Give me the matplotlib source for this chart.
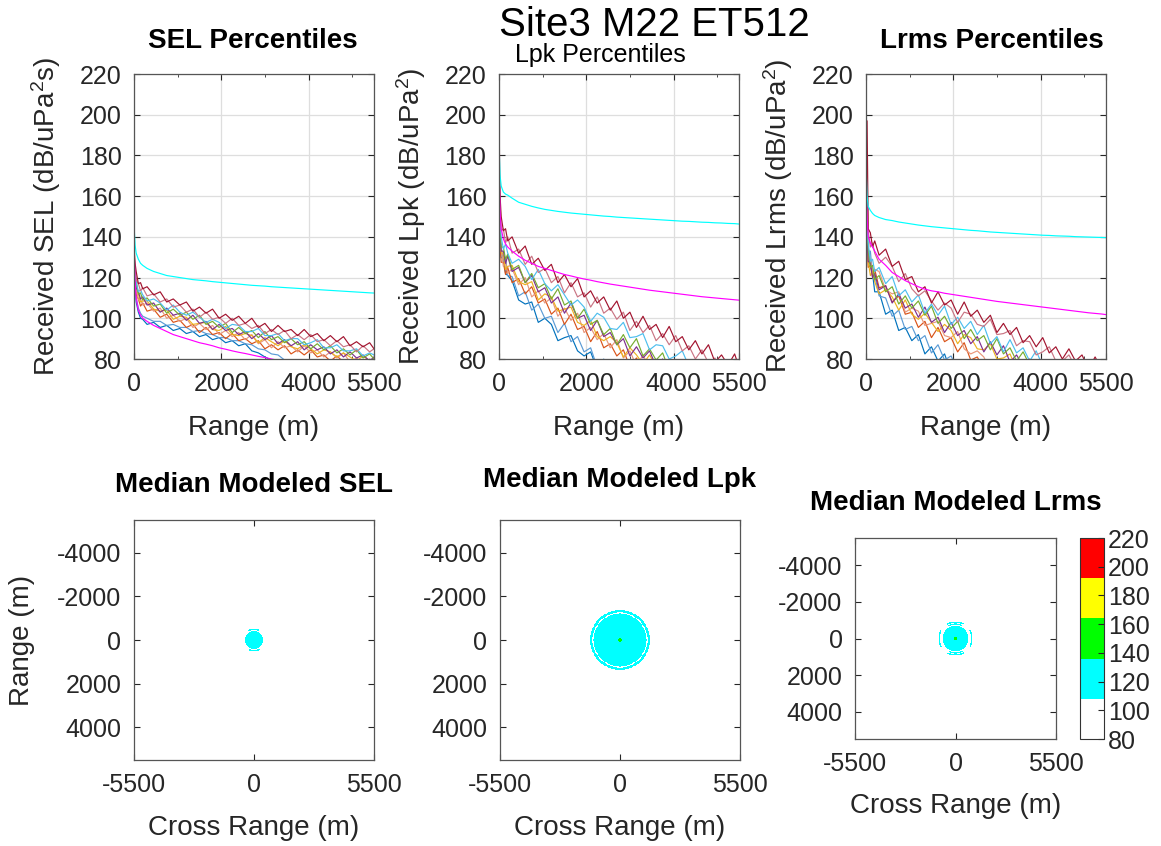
import numpy as np
import matplotlib
matplotlib.use("Agg")
import matplotlib.pyplot as plt
from matplotlib.colors import ListedColormap, Normalize
from matplotlib.cm import ScalarMappable

plt.rcParams['font.family'] = ['Liberation Sans', 'DejaVu Sans']
plt.rcParams['mathtext.fontset'] = 'custom'
plt.rcParams['mathtext.rm'] = 'Liberation Sans'
plt.rcParams['mathtext.it'] = 'Liberation Sans:italic'
plt.rcParams['mathtext.bf'] = 'Liberation Sans:bold'
plt.rcParams['axes.unicode_minus'] = False

# range samples (m) shared by all percentile curves
rng = [0, 25, 50, 100, 150, 200, 300, 450, 600, 750,
       900, 1050, 1200, 1350, 1500, 1650, 1800, 1950, 2100, 2250,
       2400, 2550, 2700, 2850, 3000, 3150, 3300, 3450, 3600, 3750,
       3900, 4050, 4200, 4350, 4500, 4650, 4800, 4950, 5100, 5250,
       5400, 5500]

# ---- SEL percentiles (dB) ----
sel_dr = [135, 127, 123, 117, 117.5, 114.5, 115.5, 111.5, 113, 108,
          109.5, 106.5, 108, 103.5, 105.5, 102.5, 104.5, 100, 102, 99,
          101, 97.5, 100, 95.5, 97.5, 93.5, 96.5, 93.5, 94.5, 91.5,
          94.5, 91, 92.5, 89, 91.5, 88.5, 91, 86.5, 88.5, 86,
          88, 85]
sel_pk = [132, 125, 119, 117, 113.5, 115, 111, 112, 108, 109.5,
          105.5, 106.5, 103, 104.5, 100.5, 103, 99.5, 100.5, 97.5, 100,
          96.5, 97.5, 95, 96.5, 92.5, 94.5, 92, 94, 90, 92,
          89.5, 92, 88.5, 89.5, 86.5, 89, 86, 87, 83.5, 86.5,
          83.5, 85]
sel_lb = [130, 124, 118, 113, 114, 111.5, 108.5, 109.5, 107.5, 104,
          106.5, 103, 101.5, 103, 100.5, 98, 99.5, 98, 95, 97,
          96.5, 93.5, 93.5, 95, 91.5, 91.5, 92.5, 89, 90, 90,
          87, 88, 89.5, 85.5, 85.5, 87, 84, 84, 85, 81.5,
          83, 82]
sel_gr = [129, 122, 118, 112, 112.5, 109, 110, 106, 107, 102.5,
          104.5, 101.5, 103, 99.5, 101.5, 97, 98.5, 95.5, 97.5, 93,
          95.5, 92.5, 94, 90.5, 93.5, 89.5, 91, 88, 90, 87,
          88.5, 85, 87.5, 84.5, 86.5, 83, 85, 82, 84.5, 80.5,
          82.5, 80]
sel_pu = [128, 121, 115, 113, 109.5, 110.5, 106.5, 107.5, 103, 105,
          101.5, 102.5, 99, 101.5, 97.5, 98.5, 94.5, 97, 94, 95,
          92, 93.5, 90, 92.5, 89.5, 91.5, 87.5, 89.5, 86.5, 88.5,
          84.5, 87, 84.5, 86, 82.5, 84.5, 81, 83.5, 80.5, 82,
          79, 81]
sel_ye = [127, 119, 115, 112, 108, 108.5, 108.5, 104.5, 103.5, 104,
          99.5, 101, 100.5, 97, 97.5, 98, 94.5, 94, 96, 92,
          91.5, 92.5, 91.5, 88, 90.5, 88.5, 86.5, 89, 86, 85,
          87, 85, 82.5, 84.5, 83.5, 81, 83, 81, 79, 81.5,
          79, 79]
sel_sa = [126, 119, 115, 109, 109.5, 106.5, 107.5, 103.5, 105, 100,
          101.5, 98.5, 100, 95.5, 97.5, 94.5, 96.5, 92, 94, 91,
          93, 89.5, 92, 87.5, 89.5, 85.5, 88.5, 85.5, 86.5, 83.5,
          86.5, 83, 84.5, 81, 83.5, 80.5, 83, 78.5, 80.5, 78,
          80, 77]
sel_or = [124.5, 117.5, 111.5, 109.5, 106, 107.5, 103.5, 104.5, 100.5, 102,
          98, 99, 95.5, 97, 93, 95.5, 92, 93, 90, 92.5,
          89, 90, 87.5, 89, 85, 87, 84.5, 86.5, 82.5, 84.5,
          82, 84.5, 81, 82, 79, 81.5, 78.5, 79.5, 76, 79,
          76, 77.5]
sel_bl = [124, 115, 108, 103, 100, 99.5, 97, 98, 95.5, 96.5,
          94, 95, 92.5, 93.5, 91, 92, 89.5, 90.5, 88, 89,
          86.5, 87.5, 84, 83, 81, 79.5, 78, 77, 76, 75,
          74, 73, 72, 71, 70, 69, 68, 67, 66, 65,
          64, 63]
sel_bl2 = [126, 117, 110, 105, 102.5, 101, 100, 98.5, 98.5, 96.5,
           97, 95.5, 95.5, 93.5, 94, 92.5, 92, 90.5, 90.5, 89,
           89, 87.5, 87, 85, 84.5, 82.5, 82, 79.5, 79, 78,
           77, 76, 75, 74, 73, 72, 71, 70, 69, 68,
           67, 66]
sel_mg = [136, 118, 110, 104, 101.5, 100, 98.5, 96.5, 95, 93.5,
          92, 91, 90, 89, 88, 87.3, 86.5, 85.5, 84.8, 84,
          83.3, 82.7, 82, 81.3, 80.7, 80, 79.4, 78.8, 78.2, 77.6,
          77, 76.5, 76, 75.5, 75, 74.5, 74, 73.5, 73, 72.5,
          72, 71.7]
sel_cy = [146, 136, 132, 129, 127, 126, 124.5, 123, 122, 121,
          120.5, 120, 119.5, 119, 118.7, 118.4, 118, 117.7, 117.4, 117.1,
          116.8, 116.5, 116.2, 116, 115.8, 115.5, 115.3, 115.1, 114.9, 114.7,
          114.5, 114.3, 114.1, 113.9, 113.7, 113.5, 113.3, 113.1, 112.9, 112.7,
          112.5, 112.4]

# ---- Lpk percentiles (dB) ----
lpk_dr = [178, 160, 150, 143, 144, 138, 140, 132, 135.5, 126.5,
          129.5, 123.5, 126.5, 117.5, 121.5, 115.5, 119.5, 110.5, 113.5, 107.5,
          110.5, 104, 108.5, 100, 103, 95.5, 101, 94.5, 97, 90.5,
          96, 88.5, 91, 84.5, 89, 82.5, 87, 78.5, 82, 77,
          82.5, 76]
lpk_pk = [200, 157, 143, 144, 137, 140, 132, 134, 126.5, 130.5,
          122.5, 124.5, 117.5, 120.5, 112.5, 117.5, 110.5, 112.5, 105.5, 110.5,
          102.5, 105, 99.5, 103, 94, 98.5, 93, 96.5, 89, 92.5,
          87, 91.5, 84, 86.5, 80, 84.5, 78, 80.5, 73, 79,
          74.5, 77]
lpk_lb = [155, 148, 140, 134, 136.5, 132, 127, 129, 125.5, 119,
          124, 117, 113.5, 116.5, 111.5, 106.5, 109, 105.5, 98.5, 102.5,
          100.5, 95, 94.5, 98, 90.5, 91, 92.5, 84.5, 87, 86.5,
          80, 81.5, 84, 76.5, 76, 78.5, 72, 72.5, 74, 66.5,
          69, 67]
lpk_gr = [150, 142, 135, 135, 129, 131.5, 124, 126, 117.5, 122,
          115, 117, 109.5, 114.5, 106.5, 108.5, 100, 104.5, 97, 99,
          92, 95, 87, 92, 85.5, 90, 81.5, 85, 79.5, 83,
          74.5, 79, 73.5, 77, 69.5, 73, 65.5, 71, 64.5, 67,
          60.5, 64.5]
lpk_pu = [148, 140, 133, 133, 127, 130.5, 123, 125, 117.5, 121,
          113, 115, 107.5, 110.5, 102.5, 107.5, 100, 101.5, 94, 99,
          91, 93, 87, 90, 81.5, 86, 80.5, 84, 76.5, 80,
          74.5, 79, 71.5, 74, 67.5, 72, 65.5, 68, 60.5, 66,
          59.5, 62.5]
lpk_ye = [146, 136, 133, 131, 124, 125.5, 126, 118, 116.5, 118,
          109, 112, 110.5, 103.5, 104.5, 105.5, 98, 96.5, 99, 91,
          89, 91, 88, 81, 85.5, 82, 77.5, 82, 76.5, 74,
          77.5, 73, 67.5, 72, 69.5, 64, 67.5, 64, 59.5, 64,
          58.5, 58.5]
lpk_sa = [144.5, 136.5, 133.5, 125.5, 127.5, 122, 124.5, 116.5, 120, 110.5,
          113.5, 107.5, 110, 101, 105, 99, 102.5, 93, 95.5, 89.5,
          92.5, 85.5, 89.5, 80.5, 84, 76.5, 82, 75.5, 78, 71.5,
          77, 69.5, 72, 65.5, 70, 63.5, 68, 59.5, 63, 57.5,
          61, 55]
lpk_or = [142.5, 134.5, 127.5, 127.5, 121.5, 125, 117.5, 119.5, 112, 115.5,
          107.5, 109.5, 102, 105, 97, 102, 94.5, 96, 88.5, 93.5,
          85.5, 87.5, 81.5, 84.5, 76, 80.5, 75, 78.5, 71, 74.5,
          69, 73.5, 66, 68.5, 62, 66.5, 60, 62.5, 55, 60.5,
          54, 57]
lpk_bl = [150, 136, 130, 129, 122, 121, 118.5, 109, 107, 108,
          98, 100, 97, 89, 90.5, 91.5, 84, 81.5, 83.5, 75,
          73, 75, 72, 65, 69, 65, 60, 64, 58, 55,
          58, 53, 47, 51, 48, 42, 45, 41, 36, 40,
          34, 34]
lpk_bl2 = [153, 141, 135, 128, 130, 121, 120.5, 111, 113, 104,
           107, 100, 101, 93, 97.5, 88.5, 91, 83.5, 85.5, 76,
           80, 74, 76, 69, 74, 66, 68, 61, 65, 58,
           60, 52, 56, 50, 53, 45, 48, 42, 46, 37,
           40, 35]
lpk_mg = [175, 152, 144, 139, 136.5, 135, 133, 130.5, 128.5, 127,
          125.5, 124.5, 123.5, 122.5, 121.5, 120.8, 120, 119.3, 118.7, 118,
          117.4, 116.8, 116.3, 115.8, 115.3, 114.8, 114.3, 113.8, 113.4, 113,
          112.6, 112.2, 111.8, 111.4, 111, 110.6, 110.3, 110, 109.7, 109.4,
          109.1, 108.9]
lpk_cy = [185, 170, 165, 162, 161, 160.5, 159, 157, 156, 155,
          154.2, 153.5, 153, 152.5, 152.1, 151.7, 151.4, 151.1, 150.8, 150.5,
          150.2, 150, 149.7, 149.5, 149.3, 149.1, 148.9, 148.7, 148.5, 148.3,
          148.1, 147.9, 147.7, 147.6, 147.4, 147.2, 147.1, 146.9, 146.8, 146.6,
          146.5, 146.3]

# ---- Lrms percentiles (dB) ----
lrms_dr = [160, 197, 144, 142, 135, 138, 131, 134, 125.5, 128,
           119, 120.5, 113, 115.5, 107.5, 113, 106.5, 109, 102, 108,
           101, 104, 98, 101.5, 93, 97.5, 92, 95.5, 88, 91.5,
           86, 90.5, 83, 86, 80, 85, 79, 82, 75, 81,
           75, 78]
lrms_pk = [175, 171, 143, 135, 137, 132, 127, 130, 125.5, 118,
           122, 114.5, 111, 113.5, 108.5, 104, 107.5, 105, 98, 103,
           102, 97, 96, 99.5, 92, 92.5, 94, 86.5, 89, 88.5,
           82, 83.5, 86, 79, 79, 82, 76, 77, 79, 72,
           75, 73]
lrms_lb = [160, 145, 137, 128, 129, 123, 125, 117, 120.5, 111,
           114, 108, 111.5, 102.5, 107, 101.5, 106, 97, 100.5, 95,
           98.5, 92, 96.5, 87.5, 91, 83.5, 89.5, 83, 85.5, 79,
           84, 76.5, 79, 72.5, 77, 70.5, 75, 66.5, 70, 64.5,
           68, 62]
lrms_gr = [157, 142, 134, 125, 126, 119, 121, 113, 115.5, 107,
           111, 105, 108.5, 101.5, 106, 97.5, 101, 95, 98.5, 90,
           94.5, 89, 91.5, 84.5, 90, 82.5, 85.5, 79, 83.5, 77,
           79, 71.5, 76, 70.5, 74, 66.5, 70, 64.5, 69, 60.5,
           64, 59]
lrms_pu = [155, 140, 128, 127, 120, 122, 114, 116, 107.5, 112,
           105, 107, 100.5, 105.5, 98, 100.5, 93, 98, 91.5, 94,
           87.5, 91, 83.5, 88.5, 82, 86.5, 78.5, 82, 76.5, 80,
           71, 75.5, 70, 73.5, 66, 69.5, 62, 67.5, 61, 63.5,
           57, 61]
lrms_ye = [153, 140, 128, 121, 123, 118, 112, 114, 110.5, 104,
           109, 102, 99.5, 102.5, 98, 93.5, 97, 94, 87.5, 92,
           90.5, 85, 84.5, 87.5, 80, 80.5, 82.5, 75, 77.5, 77,
           70, 71.5, 74, 66.5, 66, 68.5, 62, 62.5, 64, 56.5,
           59, 57]
lrms_sa = [153, 136, 130, 129, 122.5, 124, 123, 114, 112, 113,
           103, 105, 103.5, 96.5, 97.5, 98.5, 91.5, 90.5, 93.5, 85,
           82.5, 84, 81, 74, 78, 74, 69, 73, 67, 64,
           67, 62, 56, 60, 57, 51, 54, 50, 45, 49,
           43, 43]
lrms_or = [150, 135, 125, 126, 120.5, 124, 115, 116, 108, 111,
           102, 103, 95.5, 98.5, 90.5, 95.5, 88.5, 90.5, 83.5, 88,
           79.5, 81, 75, 78, 69, 73, 67, 70, 62, 65,
           59, 63, 55, 57, 50, 54, 47, 49, 41, 46,
           39, 42]
lrms_bl = [150, 140, 134, 126, 122, 113, 113, 102, 104, 94,
           95.5, 89, 92, 82.5, 86, 79, 82.5, 73.5, 76.5, 70.5,
           73.5, 66.5, 70.5, 61.5, 64.5, 56.5, 61.5, 54.5, 56.5, 49.5,
           54.5, 46.5, 48.5, 41.5, 45.5, 38.5, 42.5, 33.5, 36.5, 30.5,
           33.5, 27.5]
lrms_bl2 = [153, 143, 133, 133, 121, 121, 111, 110, 101, 104,
            94.5, 96, 89, 91.5, 83, 87, 79.5, 81.5, 74.5, 79.5,
            71.5, 73.5, 67.5, 70.5, 61.5, 65.5, 59.5, 62.5, 54.5, 57.5,
            51.5, 55.5, 47.5, 49.5, 42.5, 46.5, 39.5, 41.5, 33.5, 38.5,
            31.5, 34.5]
lrms_mg = [165, 150, 140, 137, 135, 133, 129, 126, 122.5, 120.5,
           118.5, 117, 115.5, 114.3, 113.5, 113, 112.3, 111.8, 111.3, 110.8,
           110.3, 109.8, 109.3, 108.8, 108.3, 107.9, 107.5, 107.1, 106.7, 106.3,
           105.9, 105.5, 105.1, 104.7, 104.3, 103.9, 103.5, 103.1, 102.7, 102.4,
           102.1, 101.8]
lrms_cy = [175, 160, 155, 153, 151.5, 150.5, 149.5, 148.5, 148, 147.3,
           146.8, 146.3, 145.8, 145.4, 145, 144.7, 144.4, 144.1, 143.8, 143.5,
           143.2, 143, 142.7, 142.4, 142.2, 142, 141.8, 141.6, 141.4, 141.2,
           141, 140.8, 140.7, 140.5, 140.4, 140.3, 140.1, 140, 139.9, 139.8,
           139.7, 139.6]

# ---- median modeled maps: ring edges (m) and levels (dB) per 30 deg sector ----
sel_map_edges = [0, 420, 460, 520]
sel_map_vals = [[122, 100, 100], [122, 100, 100], [122, 100, 114],
                [122, 100, 114], [122, 100, 100], [122, 100, 100],
                [122, 100, 100], [122, 100, 100], [122, 100, 114],
                [122, 100, 114], [122, 100, 100], [122, 100, 100]]
lpk_map_edges = [0, 90, 1220, 1270, 1360]
lpk_map_vals = [[140, 125, 100, 118]] * 12
lrms_map_edges = [0, 80, 710, 760, 830, 870, 930]
lrms_map_vals = [[140, 125, 100, 100, 100, 114], [140, 125, 100, 100, 100, 100],
                 [140, 125, 100, 116, 100, 110], [140, 125, 100, 116, 100, 110],
                 [140, 125, 100, 100, 100, 100], [140, 125, 100, 100, 100, 114],
                 [140, 125, 100, 100, 100, 114], [140, 125, 100, 100, 100, 100],
                 [140, 125, 100, 116, 100, 110], [140, 125, 100, 116, 100, 110],
                 [140, 125, 100, 100, 100, 100], [140, 125, 100, 100, 100, 114]]

level_ticks = [80, 100, 120, 140, 160, 180, 200, 220]
level_colors = ['#ffffff', '#00ffff', '#00ff00', '#ffff00', '#ff0000']

line_colors = ['#0072BD', '#5B9BD5', '#D95319', '#E8967A', '#EDB120',
               '#7E2F8E', '#77AC30', '#4DBEEE', '#C97584', '#A2142F',
               '#FF00FF', '#00FFFF']

W, H = 1161, 846
fig = plt.figure(figsize=(W / 100, H / 100), dpi=100)


def box(x0, y_top, w, h):
    return [x0 / W, 1 - (y_top + h) / H, w / W, h / H]


def ftext(x, y, s, **kw):
    fig.text(x / W, 1 - y / H, s, **kw)


def style(ax):
    ax.tick_params(which='both', direction='in', top=True, right=True,
                   labelsize=18, pad=9, colors='#262626', length=4)
    ax.tick_params(which='minor', length=2.5)
    for sp in ax.spines.values():
        sp.set_color('#555555')
        sp.set_linewidth(0.9)


cmap = ListedColormap(level_colors)
norm = Normalize(80, 220)

top = [
    (134, [sel_bl, sel_bl2, sel_or, sel_sa, sel_ye, sel_pu, sel_gr, sel_lb, sel_pk, sel_dr, sel_mg, sel_cy],
     'Received SEL (dB/uPa$^2$s)'),
    (499, [lpk_bl, lpk_bl2, lpk_or, lpk_sa, lpk_ye, lpk_pu, lpk_gr, lpk_lb, lpk_pk, lpk_dr, lpk_mg, lpk_cy],
     'Received Lpk (dB/uPa$^2$)'),
    (866, [lrms_bl, lrms_bl2, lrms_or, lrms_sa, lrms_ye, lrms_pu, lrms_gr, lrms_lb, lrms_pk, lrms_dr, lrms_mg, lrms_cy],
     'Received Lrms (dB/uPa$^2$)'),
]
for x0, curves, ylab in top:
    ax = fig.add_axes(box(x0, 74, 240, 285))
    for vals, c in zip(curves, line_colors):
        ax.plot(rng, vals, color=c, lw=0.85)
    ax.set_xlim(0, 5500)
    ax.set_ylim(80, 220)
    ax.set_xticks([0, 2000, 4000, 5500])
    ax.set_xticks([1000, 3000, 5000], minor=True)
    ax.set_yticks(level_ticks)
    ax.grid(True, which='major', color='#dedede', lw=0.9)
    ax.set_axisbelow(True)
    style(ax)
    ftext(x0 - 88, 216, ylab, rotation=90, ha='center', va='center', fontsize=20, color='#262626')
    ftext(x0 + 120, 435, 'Range (m)', ha='center', va='baseline', fontsize=20, color='#262626')

ftext(654, 36, 'Site3 M22 ET512', ha='center', va='baseline', fontsize=29)
ftext(253, 48, 'SEL Percentiles', ha='center', va='baseline', fontsize=20, fontweight='bold')
ftext(600, 62, 'Lpk Percentiles', ha='center', va='baseline', fontsize=18)
ftext(992, 48, 'Lrms Percentiles', ha='center', va='baseline', fontsize=20, fontweight='bold')

theta = np.linspace(0, 2 * np.pi, 121)
bottom = [
    (134, 520, 240, sel_map_edges, sel_map_vals, 'Median Modeled SEL', 492, 835),
    (500, 520, 240, lpk_map_edges, lpk_map_vals, 'Median Modeled Lpk', 487, 835),
    (855, 538, 201, lrms_map_edges, lrms_map_vals, 'Median Modeled Lrms', 510, 813),
]
for x0, y0, sz, edges, vals, title, ty, xy in bottom:
    ax = fig.add_axes(box(x0, y0, sz, sz))
    R, T = np.meshgrid(edges, theta)
    C = np.repeat(np.array(vals, dtype=float), 10, axis=0)
    ax.pcolormesh(R * np.cos(T), R * np.sin(T), C, cmap=cmap, norm=norm,
                  shading='flat', edgecolors='none', antialiased=False)
    ax.set_xlim(-5500, 5500)
    ax.set_ylim(5500, -5500)
    ax.set_xticks([-5500, 0, 5500])
    ax.set_yticks([-4000, -2000, 0, 2000, 4000])
    style(ax)
    ftext(x0 + sz / 2, ty, title, ha='center', va='baseline', fontsize=20, fontweight='bold')
    ftext(x0 + sz / 2, xy, 'Cross Range (m)', ha='center', va='baseline', fontsize=20, color='#262626')

ftext(22, 640, 'Range (m)', rotation=90, ha='center', va='center', fontsize=20, color='#262626')

cax = fig.add_axes(box(1080, 538, 24, 201))
cb = fig.colorbar(ScalarMappable(norm=norm, cmap=cmap), cax=cax, ticks=level_ticks)
cb.ax.tick_params(labelsize=18, direction='in', length=4, pad=3, colors='#262626')
cb.outline.set_edgecolor('#333333')

fig.savefig('out.png', dpi=100)
